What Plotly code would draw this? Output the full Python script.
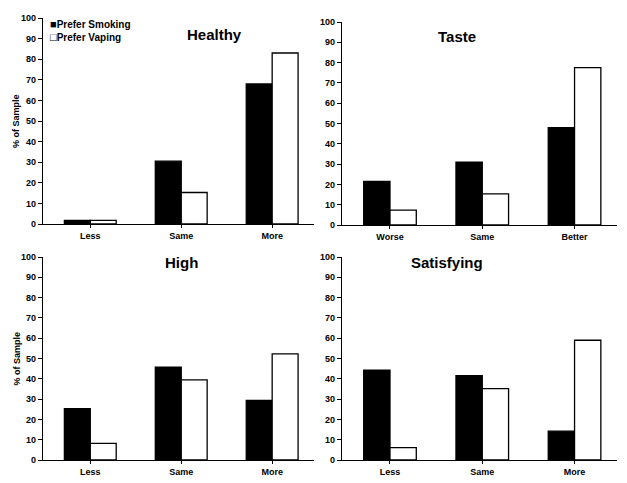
import plotly.graph_objects as go

# categories and values (% of sample)
cats_healthy = ["Less", "Same", "More"]
cats_taste = ["Worse", "Same", "Better"]
cats_high = ["Less", "Same", "More"]
cats_satis = ["Less", "Same", "More"]

healthy_smoke = [1.8, 30.5, 68.0]
healthy_vape = [1.8, 15.3, 83.0]
taste_smoke = [21.5, 31.0, 48.0]
taste_vape = [7.3, 15.3, 77.5]
high_smoke = [25.3, 45.7, 29.3]
high_vape = [8.2, 39.5, 52.3]
satis_smoke = [44.3, 41.5, 14.2]
satis_vape = [6.1, 35.2, 59.0]

panel_titles = ["Healthy", "Taste", "High", "Satisfying"]
series_names = ["Prefer Smoking", "Prefer Vaping"]
y_title = "% of Sample"
yticks = list(range(0, 101, 10))

FONT = "Liberation Sans, Arial, sans-serif"
W, H = 627, 483

panels = [
    (cats_healthy, healthy_smoke, healthy_vape),
    (cats_taste, taste_smoke, taste_vape),
    (cats_high, high_smoke, high_vape),
    (cats_satis, satis_smoke, satis_vape),
]

# pixel boxes of each plot area: (left, right, top, bottom)
boxes = [(43, 314, 18, 224), (342, 617, 22, 225), (43, 314, 257, 460), (342, 617, 257, 460)]
title_pos = [(185, 24), (478, 26), (163, 262), (485, 262)]

fig = go.Figure()

for i, (cats, smk, vap) in enumerate(panels):
    n = "" if i == 0 else str(i + 1)
    fig.add_trace(go.Bar(
        x=cats, y=smk, name=series_names[0], showlegend=False,
        marker=dict(color="black", line=dict(color="black", width=1.3)),
        xaxis="x" + n, yaxis="y" + n, offsetgroup="a",
    ))
    fig.add_trace(go.Bar(
        x=cats, y=vap, name=series_names[1], showlegend=False,
        marker=dict(color="white", line=dict(color="black", width=1.3)),
        xaxis="x" + n, yaxis="y" + n, offsetgroup="b",
    ))
    l, r, t, b = boxes[i]
    xa = dict(
        domain=[l / W, r / W], anchor="y" + n, range=[-0.52, 2.46],
        showline=True, linecolor="black",
        linewidth=1.3, ticks="outside", ticklen=3, tickcolor="black",
        tickfont=dict(family=FONT, size=9, color="black", weight="bold"),
        showgrid=False, fixedrange=True, automargin=False,
    )
    ya = dict(
        domain=[1 - b / H, 1 - t / H], anchor="x" + n, range=[0, 100],
        tickvals=yticks, showline=True, linecolor="black", linewidth=1.3,
        ticks="outside", ticklen=4, tickcolor="black", showgrid=False,
        zeroline=False, automargin=False,
        tickfont=dict(family=FONT, size=9, color="black", weight="bold"),
    )
    fig.update_layout({"xaxis" + n: xa, "yaxis" + n: ya})
    tx, ty = title_pos[i]
    fig.add_annotation(
        x=tx / W, y=1 - ty / H, xref="paper", yref="paper", text="<b>%s</b>" % panel_titles[i],
        showarrow=False, font=dict(family=FONT, size=15, color="black"),
    )
    if i in (0, 2):
        fig.add_annotation(
            x=16 / W, y=1 - (t + b) / 2 / H, xref="paper", yref="paper",
            xanchor="center", yanchor="middle",
            text="<b>%s</b>" % y_title, textangle=-90, showarrow=False,
            font=dict(family=FONT, size=9, color="black"),
        )

# legend drawn as text, like the original
for k, (mark, name) in enumerate(zip(["\u25a0", "\u25a1"], series_names)):
    fig.add_annotation(
        x=48 / W, y=1 - (24 + 13 * k) / H, xref="paper", yref="paper",
        xanchor="left", yanchor="middle", showarrow=False,
        text='<b><span style="font-size:11px">%s</span>%s</b>' % (mark, name),
        font=dict(family=FONT, size=10, color="black"),
    )

fig.update_layout(
    width=W, height=H, barmode="group", bargap=0.43, bargroupgap=0,
    plot_bgcolor="white", paper_bgcolor="white",
    margin=dict(l=0, r=0, t=0, b=0), showlegend=False,
    font=dict(family=FONT),
)

fig.write_html("out.html", config={"displayModeBar": False},
               post_script="document.body.style.margin='0';")
